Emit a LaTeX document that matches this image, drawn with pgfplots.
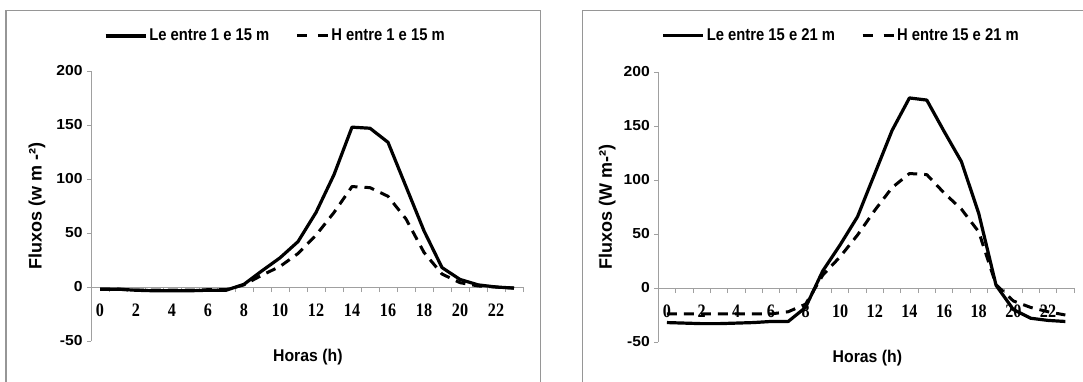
\documentclass[border=0pt]{standalone}
\usepackage{fontspec}
\setmainfont{Liberation Sans}
\newfontfamily\legfont[FakeStretch=0.87]{Liberation Sans}
\newfontfamily\labfont[FakeStretch=0.93]{Liberation Sans}
\newfontfamily\ytfont[FakeStretch=1.08]{Liberation Sans}
\newfontfamily\xtfont[FakeStretch=0.85]{Liberation Serif}
\usepackage{pgfplots}
\pgfplotsset{compat=1.18}
\definecolor{axgray}{RGB}{160,160,160}
\definecolor{framegray}{RGB}{150,150,150}
\pgfplotsset{
  myax/.style={
    scale only axis, height=270pt,
    xmin=-0.5, xmax=23.5, ymin=-50, ymax=200,
    axis x line=middle, axis y line=left,
    axis line style={draw=axgray, line width=1pt, -},
    xtick={0,2,...,22},
    minor xtick={-0.5,0.5,...,23.5},
    ytick={-50,0,50,100,150,200},
    tick align=outside,
    major x tick style={draw=none},
    minor x tick style={draw=axgray, line width=0.8pt},
    ytick style={draw=axgray, line width=0.8pt},
    minor tick length=5pt, major tick length=4pt,
    /pgf/number format/assume math mode=true,
    xticklabel style={font=\xtfont\bfseries\fontsize{19}{19}\selectfont, yshift=-9pt, text=black},
    yticklabel style={font=\ytfont\bfseries\fontsize{14.5}{14.5}\selectfont, text=black, xshift=-1pt},
    every axis y label/.style={at={(axis description cs:-0.125,0.5)}, rotate=90, anchor=center, font=\bfseries\fontsize{18}{18}\selectfont},
    every axis x label/.style={at={(axis description cs:0.502,-0.058)}, anchor=center, font=\labfont\bfseries\fontsize{17}{17}\selectfont},
    legend columns=2,
    legend cell align=left,
    legend style={draw=none, fill=none, anchor=center,
      font=\legfont\bfseries\fontsize{17}{17}\selectfont,
      /tikz/every even column/.append style={column sep=24pt},
      /tikz/every odd column/.append style={column sep=0pt}},
    clip=false,
  },
  solidln/.style={black, line width=3.2pt, line join=round,
    legend image code/.code={\draw[##1] (0pt,0pt) -- (40pt,0pt);}},
  dashln/.style={black, line width=3pt, line join=round, dash pattern=on 10pt off 7pt,
    legend image code/.code={\draw[##1, dash pattern=on 10pt off 11pt] (0pt,0pt) -- (31pt,0pt);}},
}
\begin{document}
\begin{tikzpicture}
\useasboundingbox (0,0) rectangle (1083pt,381pt);
\draw[framegray, line width=1.3pt] (6pt,-5pt) -- (6pt,370.3pt) -- (540.7pt,370.3pt) -- (540.7pt,-5pt);
\draw[framegray, line width=1.3pt] (582.3pt,-5pt) -- (582.3pt,370.3pt) -- (1090pt,370.3pt);

\begin{axis}[myax, width=432pt, at={(91pt,40pt)}, anchor=south west,
  ylabel={Fluxos (w m -²)}, xlabel={Horas (h)},
  legend style={at={(0.427,1.13)}}]
\addplot[solidln] coordinates {
(0,-2) (1,-2) (2,-3) (3,-3.5) (4,-3.5) (5,-3.5) (6,-3) (7,-3)
(8,2.5) (9,15) (10,27) (11,42) (12,69) (13,104) (14,148) (15,147)
(16,134) (17,93) (18,52) (19,18) (20,7) (21,2) (22,0) (23,-1)};
\addlegendentry{Le entre 1 e 15 m}
\addplot[dashln] coordinates {
(0,-2) (1,-2) (2,-3) (3,-3) (4,-3) (5,-3) (6,-2.5) (7,-2.5)
(8,2) (9,11) (10,19) (11,31) (12,48) (13,69) (14,93) (15,92)
(16,84) (17,63) (18,32) (19,12) (20,4) (21,1) (22,0) (23,-1)};
\addlegendentry{H entre 1 e 15 m}
\end{axis}

\begin{axis}[myax, width=415.7pt, at={(658.3pt,39pt)}, anchor=south west,
  ylabel={Fluxos (W m-²)}, xlabel={Horas (h)},
  every axis y label/.append style={at={(axis description cs:-0.123,0.5)}},
  every axis x label/.append style={at={(axis description cs:0.503,-0.058)}},
  legend style={at={(0.44,1.135)}}]
\addplot[solidln] coordinates {
(0,-32) (1,-32.5) (2,-33) (3,-33) (4,-32.5) (5,-32) (6,-31) (7,-31)
(8,-18) (9,16) (10,40) (11,66) (12,106) (13,146) (14,176) (15,174)
(16,145) (17,117) (18,69) (19,2.5) (20,-20) (21,-28) (22,-30) (23,-31)};
\addlegendentry{Le entre 15 e 21 m}
\addplot[dashln] coordinates {
(0,-24) (1,-24) (2,-24) (3,-24) (4,-24) (5,-24) (6,-24) (7,-22)
(8,-15) (9,12) (10,29) (11,49) (12,72) (13,93) (14,106) (15,105)
(16,88) (17,73) (18,52) (19,3) (20,-12) (21,-18) (22,-22) (23,-25)};
\addlegendentry{H entre 15 e 21 m}
\end{axis}
\end{tikzpicture}
\end{document}
